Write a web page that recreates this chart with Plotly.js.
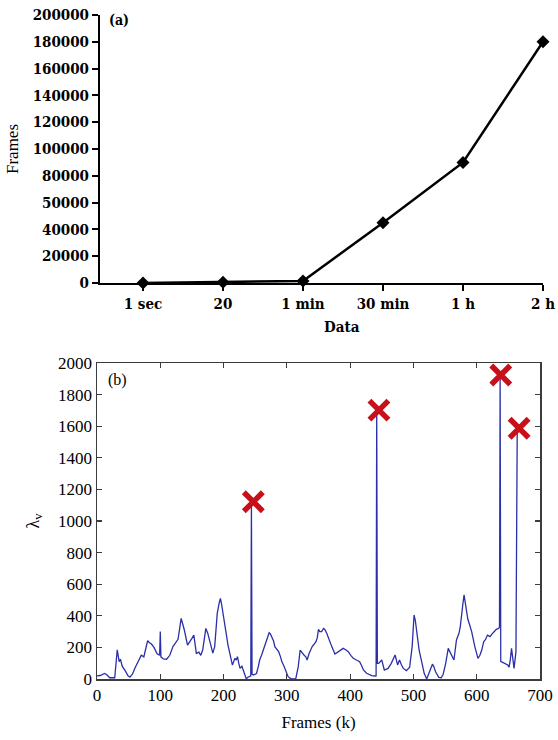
<!DOCTYPE html>
<html>
<head>
<meta charset="utf-8">
<script src="https://cdn.plot.ly/plotly-3.0.1.min.js"></script>
<style>html,body{margin:0;padding:0;background:#fff;}#chart{width:558px;height:740px;}</style>
</head>
<body>
<div id="chart"></div>
<script>
// ---- Panel (a) data ----
const durationLabels = ["1 sec", "20", "1 min", "30 min", "1 h", "2 h"];
const frameCounts = [25, 500, 1500, 45000, 90000, 180000];
const yTickValsA = [0, 20000, 40000, 60000, 80000, 100000, 120000, 140000, 160000, 180000, 200000];
const yTickTextA = ["0", "20000", "40000", "50000", "80000", "100000", "120000", "140000", "160000", "180000", "200000"];

// ---- Panel (b) data ----
const framesK = [0,5,12,16,20,25,28,32,35,37,40,45,49,52,56,60,65,70,74,78,80,83,86,90,95,99,100,101,105,110,115,120,125,128,131,133,136,138,143,146,150,153,155,157,161,164,167,170,172,175,178,181,183,186,188,190,193,195,197,199,202,204,207,211,214,216,218,220,222,224,226,229,231,234,236,238,241,243,244,245,247,250,252,255,257,260,263,267,270,272,274,276,279,281,284,287,290,292,295,297,300,302,305,308,314,316,318,321,324,327,330,332,335,337,340,342,346,348,350,352,355,358,360,363,365,367,371,376,381,385,389,393,397,401,405,410,415,418,421,426,430,434,439,441,442,443,445,450,454,460,465,469,471,475,478,481,484,489,494,498,501,503,505,509,513,517,521,524,526,530,532,535,540,544,547,551,555,558,560,564,568,572,574,576,578,580,582,583,586,589,592,597,600,602,605,608,611,614,617,621,626,631,635,636,637,638,641,645,649,651,653,655,657,659,662,664];
const lambdaV = [20,22,35,25,8,10,8,185,110,125,80,50,20,12,30,70,110,150,140,200,242,230,221,200,160,150,300,140,127,125,150,205,230,251,330,384,340,310,215,230,257,278,230,162,170,150,183,270,320,290,247,200,164,205,300,415,480,510,470,415,340,289,215,141,88,110,131,120,141,100,67,80,58,30,0,10,15,20,1100,30,25,30,35,80,120,150,183,226,270,293,285,270,240,205,190,173,140,110,85,61,35,15,5,0,0,30,78,183,165,152,140,120,160,183,205,215,236,260,314,300,300,320,314,290,268,236,205,158,173,185,194,185,173,150,131,120,110,85,57,36,28,21,19,20,1680,100,99,120,57,67,99,140,152,89,120,90,67,53,74,205,405,370,310,183,110,36,0,30,57,94,80,46,10,8,30,99,194,170,152,120,247,289,330,426,470,532,480,426,378,340,300,205,160,131,150,183,236,250,278,268,293,314,321,330,1900,110,105,99,89,74,120,194,120,67,173,1560];
const peakFramesK = [247, 445.5, 638, 667];
const peakLambda = [1122, 1702, 1924, 1587];
const xTickValsB = [0, 100, 200, 300, 400, 500, 600, 700];
const yTickValsB = [0, 200, 400, 600, 800, 1000, 1200, 1400, 1600, 1800, 2000];

const serif = "Liberation Serif";
const boldSerif = "DejaVu Serif Condensed, DejaVu Serif";
const W = 558, H = 740;

const traces = [
  {
    x: durationLabels, y: frameCounts, type: "scatter", mode: "lines+markers",
    xaxis: "x", yaxis: "y",
    line: {color: "#000", width: 2.5},
    marker: {symbol: "diamond", size: 10, color: "#000"},
    cliponaxis: false, showlegend: false, hoverinfo: "skip"
  },
  {
    x: framesK, y: lambdaV, type: "scatter", mode: "lines",
    xaxis: "x2", yaxis: "y2",
    line: {color: "#2b2fa8", width: 1.3},
    showlegend: false, hoverinfo: "skip"
  },
  {
    x: peakFramesK, y: peakLambda, type: "scatter", mode: "markers",
    xaxis: "x2", yaxis: "y2",
    marker: {symbol: "x-thin", size: 19, color: "#c8101a", line: {color: "#c8101a", width: 5.5}},
    cliponaxis: false, showlegend: false, hoverinfo: "skip"
  }
];

const boldTick = {family: boldSerif, size: 15, color: "#000", weight: "bold"};
const regTick = {family: serif, size: 17, color: "#000"};

const layout = {
  width: W, height: H,
  margin: {l: 0, r: 0, t: 0, b: 0},
  paper_bgcolor: "#fff", plot_bgcolor: "#fff",
  showlegend: false,
  xaxis: {
    domain: [100 / W, 543 / W], anchor: "y",
    type: "category", categoryorder: "array", categoryarray: durationLabels,
    range: [-0.5375, 5],
    showline: true, linecolor: "#000", linewidth: 2,
    ticks: "outside", ticklen: 6, tickwidth: 2, tickcolor: "#000",
    showgrid: false, zeroline: false,
    tickfont: boldTick, fixedrange: true
  },
  yaxis: {
    domain: [1 - 283 / H, 1 - 15 / H], anchor: "x",
    range: [0, 200000],
    tickvals: yTickValsA, ticktext: yTickTextA,
    showline: true, linecolor: "#000", linewidth: 2,
    ticks: "outside", ticklen: 6, tickwidth: 2, tickcolor: "#000",
    showgrid: false, zeroline: false,
    tickfont: boldTick,
    title: {text: "Frames", font: {family: serif, size: 17, color: "#000"}, standoff: 10},
    fixedrange: true
  },
  xaxis2: {
    domain: [97 / W, 540 / W], anchor: "y2",
    range: [0, 700],
    tickvals: xTickValsB,
    showline: true, linecolor: "#3c3c3c", linewidth: 1.5, mirror: "ticks",
    ticks: "inside", ticklen: 5, tickwidth: 1.2, tickcolor: "#3c3c3c",
    showgrid: false, zeroline: false,
    tickfont: regTick,
    title: {text: "Frames (k)", font: {family: serif, size: 17, color: "#000"}, standoff: 12},
    fixedrange: true
  },
  yaxis2: {
    domain: [1 - 679 / H, 1 - 363 / H], anchor: "x2",
    range: [0, 2000],
    tickvals: yTickValsB,
    showline: true, linecolor: "#3c3c3c", linewidth: 1.5, mirror: "ticks",
    ticks: "inside", ticklen: 5, tickwidth: 1.2, tickcolor: "#3c3c3c",
    showgrid: false, zeroline: false,
    tickfont: regTick,
    title: {text: "λ<sub>v</sub>", font: {family: serif, size: 18, color: "#000"}, standoff: 14},
    fixedrange: true
  },
  annotations: [
    {text: "(a)", xref: "paper", yref: "paper", x: 107 / W, y: 1 - 20 / H,
     xanchor: "left", yanchor: "middle", showarrow: false,
     font: {family: boldSerif, size: 14, color: "#000", weight: "bold"}},
    {text: "Data", xref: "paper", yref: "paper", x: 342 / W, y: 1 - 327 / H,
     xanchor: "center", yanchor: "middle", showarrow: false,
     font: {family: boldSerif, size: 15, color: "#000", weight: "bold"}},
    {text: "(b)", xref: "paper", yref: "paper", x: 106 / W, y: 1 - 380 / H,
     xanchor: "left", yanchor: "middle", showarrow: false,
     font: {family: serif, size: 16, color: "#000"}}
  ]
};

Plotly.newPlot("chart", traces, layout, {displayModeBar: false, staticPlot: true});
</script>
</body>
</html>
